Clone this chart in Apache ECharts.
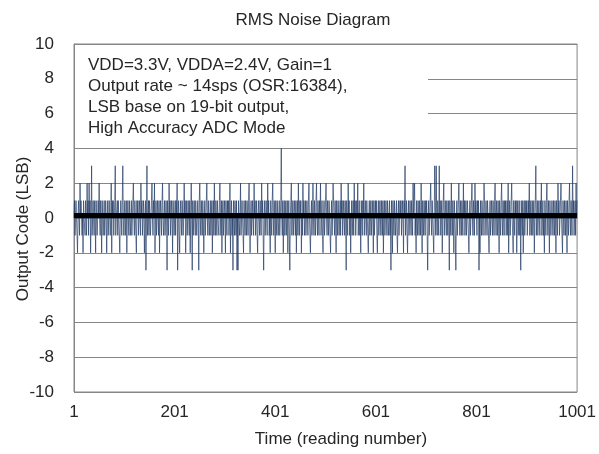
<!DOCTYPE html>
<html>
<head>
<meta charset="utf-8">
<script src="https://cdn.jsdelivr.net/npm/echarts@6/dist/echarts.min.js"></script>
<style>html,body{margin:0;padding:0;background:#fff}#c{width:599px;height:454px}</style>
</head>
<body>
<div id="c"></div>
<script>
// Output code (LSB) for readings 1..1001 (50 per row)
const noiseCodes = [
0,1,-1,0,1,0,-1,-2,0,1, 0,-1,2,0,1,1,-1,0,-2,1, 0,0,-1,1,0,-1,2,0,1,-1, 2,0,1,-2,0,3,-1,0,1,0, -1,1,0,-2,1,0,-1,0,1,0,
2,0,-1,1,0,-2,1,0,-1,0, 1,-1,0,1,0,-2,0,1,-1,0, 1,0,-1,0,2,-2,1,0,1,-1, 0,1,3,-1,0,0,1,-1,1,0, -1,-2,0,1,0,-1,1,3,0,-1,
0,1,-1,0,1,-2,0,1,0,-1, 1,0,-1,0,1,-1,0,1,2,0, -1,1,0,-1,-2,1,0,1,-1,0, 1,0,-1,2,0,1,-1,0,1,0, -2,0,1,-3,0,3,-1,0,1,-1,
1,0,-1,0,1,2,0,-1,1,0, 2,-2,0,1,-1,0,1,0,-1,1, -2,0,1,0,-1,1,2,0,-1,0, 1,-1,0,1,0,-3,1,0,-1,2, 0,1,-1,0,1,0,-2,1,0,-1,
0,1,-1,1,0,2,-3,0,1,-1, -2,0,1,0,-1,1,0,-1,0,2, 0,1,-2,0,1,-1,0,1,0,-1, 1,-2,0,2,0,-3,1,-1,0,1, 0,-1,1,0,-1,0,1,0,-3,1,
2,0,-1,1,0,-1,1,0,-2,0, 1,-1,0,1,2,0,-1,1,0,-1, 0,1,-1,0,1,-2,0,1,-1,2, 0,-1,1,0,-1,1,0,0,-1,1, 2,0,-1,1,-2,0,1,-1,0,1,
0,-2,1,0,-1,1,0,1,-1,0, 2,-2,0,1,-1,0,-3,1,0,-1, 1,0,-1,1,-3,0,-3,1,0,-1, 0,2,-1,0,1,0,-1,-2,1,0, -1,1,0,-1,1,0,-1,1,2,0,
-2,0,1,-1,0,1,0,-1,2,0, 1,-1,0,1,-1,-2,0,1,0,-1, 1,0,-1,2,0,1,-1,-3,0,1, -1,0,1,0,-1,2,0,1,-1,0, -2,1,0,-1,1,2,0,-1,1,0,
-2,1,0,-1,1,0,-1,0,1,-1, 0,1,4,0,-1,1,-2,0,1,-1, 0,1,-1,0,1,-2,0,1,-1,-3, 0,1,2,-1,0,1,-1,0,1,0, -1,1,-2,0,1,-1,2,0,-1,1,
0,1,-2,0,-1,2,0,1,-1,0, 1,-1,0,1,0,-1,1,2,0,-1, -2,0,1,-1,0,2,0,-1,1,0, -1,1,2,0,-1,1,0,-1,1,0, 2,-1,0,1,-1,-2,0,1,-1,0,
1,2,0,-1,1,0,-1,1,0,-1, -2,0,1,-1,0,2,1,0,-1,1, 0,-2,1,0,-1,1,0,-1,0,1, -1,2,0,1,-1,0,1,0,-1,1, 0,-3,1,0,-1,2,0,1,-1,0,
-2,0,1,-1,0,1,-1,2,0,1, -1,0,1,0,2,-1,0,1,-1,0, -2,1,0,-1,1,0,2,-1,0,1, 0,-1,1,0,-1,-2,0,1,-1,0, 1,-1,0,1,0,-2,1,-1,0,1,
0,1,-1,-2,0,1,-1,0,1,0, -1,1,0,-1,1,-2,0,1,-1,0, 1,0,-1,1,0,-1,0,1,-1,0, -3,1,0,-2,1,0,-1,1,0,-1, 0,1,-1,-2,0,1,-1,0,1,0,
1,-1,0,1,0,-2,1,0,3,-1, 0,1,-1,-2,0,1,-1,0,1,0, -1,1,0,-1,2,0,1,2,-1,0, -2,1,0,-1,1,0,-1,1,0,-1, 2,0,-2,1,0,-1,1,0,-1,1,
0,1,-1,-3,0,1,-1,0,1,2, 0,-1,1,0,-1,-2,0,3,1,-1, 3,0,-1,1,0,-1,3,0,1,-1, 0,1,-2,0,1,2,-1,0,1,0, -1,1,0,-1,1,0,-3,1,0,-1,
2,0,-1,1,0,-2,1,0,-1,-3, 0,1,-1,0,1,2,0,-1,1,0, -1,1,0,-1,2,0,1,-1,0,1, -1,0,1,0,-1,-2,0,1,-1,0, 1,2,0,-1,1,0,-1,2,0,1,
0,-1,1,0,1,-3,0,-2,1,0, -1,1,0,-1,0,2,1,-1,0,1, 0,-1,1,0,-1,-2,0,1,-1,0, 1,0,-1,1,0,-1,1,2,0,-1, 1,0,-1,1,0,-2,1,0,-1,1,
2,0,-1,1,0,-1,1,0,1,-1, 0,1,-1,2,-2,0,1,-1,0,1, 2,0,-1,-2,1,0,-1,1,0,1, -2,0,1,-1,0,1,-1,0,-3,1, 0,-1,1,-2,0,1,-1,0,1,0,
1,-1,0,1,0,2,-1,0,1,-1, 0,1,-1,0,1,-2,0,1,3,-1, 0,1,-1,0,1,0,-1,1,0,2, -1,0,1,-1,0,-2,1,0,-1,1, 2,0,-1,1,0,-2,1,0,-1,0,
1,0,-1,1,0,-1,1,0,-2,1, 0,-1,2,0,1,-1,0,1,2,0, -1,-2,1,0,-1,1,0,-1,1,0, -2,1,0,-1,1,2,0,-1,1,0, -1,3,0,1,-1,0,1,-1,2,0,
1
];
const averageCode = 0.15;
const xTickValues = [1, 201, 401, 601, 801, 1001];
const yTickValues = [-10, -8, -6, -4, -2, 0, 2, 4, 6, 8, 10];
const titleText = 'RMS Noise Diagram';
const xName = 'Time (reading number)';
const yName = 'Output Code (LSB)';
const noteLines = ['VDD=3.3V, VDDA=2.4V, Gain=1', 'Output rate ~ 14sps (OSR:16384),', 'LSB base on 19-bit output,', 'High Accuracy ADC Mode'];

const FONT = '"Liberation Sans", Arial, sans-serif';
const TXT = '#262626';
const GRID = '#868686';

const noiseData = noiseCodes.map((v, i) => [i, v]);
const avgData = [[xTickValues[0] - 1, averageCode], [xTickValues[xTickValues.length - 1] - 1, averageCode]];

const chart = echarts.init(document.getElementById('c'), null, {renderer: 'canvas'});
chart.setOption({
  animation: false,
  backgroundColor: '#fff',
  textStyle: {fontFamily: FONT},
  grid: {left: 74, right: 18, top: 44, bottom: 62, show: true, borderColor: GRID, borderWidth: 1, backgroundColor: 'transparent'},
  xAxis: {
    type: 'value', min: 0, max: 1000, interval: 200,
    axisLine: {show: true, lineStyle: {color: GRID}},
    axisTick: {show: false},
    splitLine: {show: false},
    axisLabel: {fontSize: 17, color: TXT, fontFamily: FONT, margin: 12,
      formatter: v => { const t = xTickValues.find(x => x - 1 === v); return t === undefined ? '' : String(t); }}
  },
  yAxis: {
    type: 'value', min: yTickValues[0], max: yTickValues[yTickValues.length - 1], interval: 2,
    axisLine: {show: true, lineStyle: {color: GRID}},
    axisTick: {show: false},
    splitLine: {show: true, lineStyle: {color: GRID, width: 1}},
    axisLabel: {fontSize: 17, color: TXT, fontFamily: FONT, margin: 20}
  },
  series: [
    {type: 'line', data: noiseData, showSymbol: false, symbol: 'none', sampling: null,
      lineStyle: {color: '#1F3864', width: 0.75, opacity: 0.9}, z: 3},
    {type: 'line', data: avgData, showSymbol: false, symbol: 'none',
      lineStyle: {color: '#000000', width: 5}, z: 4}
  ],
  graphic: [
    {type: 'text', style: {text: titleText, x: 313, y: 20, fontSize: 17, fill: TXT, fontFamily: FONT, align: 'center', verticalAlign: 'middle'}, z: 10},
    {type: 'text', style: {text: xName, x: 341, y: 439, fontSize: 17, fill: TXT, fontFamily: FONT, align: 'center', verticalAlign: 'middle'}, z: 10},
    {type: 'text', x: 23, y: 229, rotation: Math.PI / 2, style: {text: yName, x: 0, y: 0, fontSize: 17, fill: TXT, fontFamily: FONT, align: 'center', verticalAlign: 'middle'}, z: 10},
    {type: 'rect', shape: {x: 75, y: 48, width: 353, height: 92}, style: {fill: '#ffffff'}, z: 10},
    {type: 'text', style: {text: noteLines.join('\n'), x: 88, y: 55, fontSize: 17, lineHeight: 21, fill: TXT, fontFamily: FONT, align: 'left', verticalAlign: 'top'}, z: 11}
  ]
});
</script>
</body>
</html>
